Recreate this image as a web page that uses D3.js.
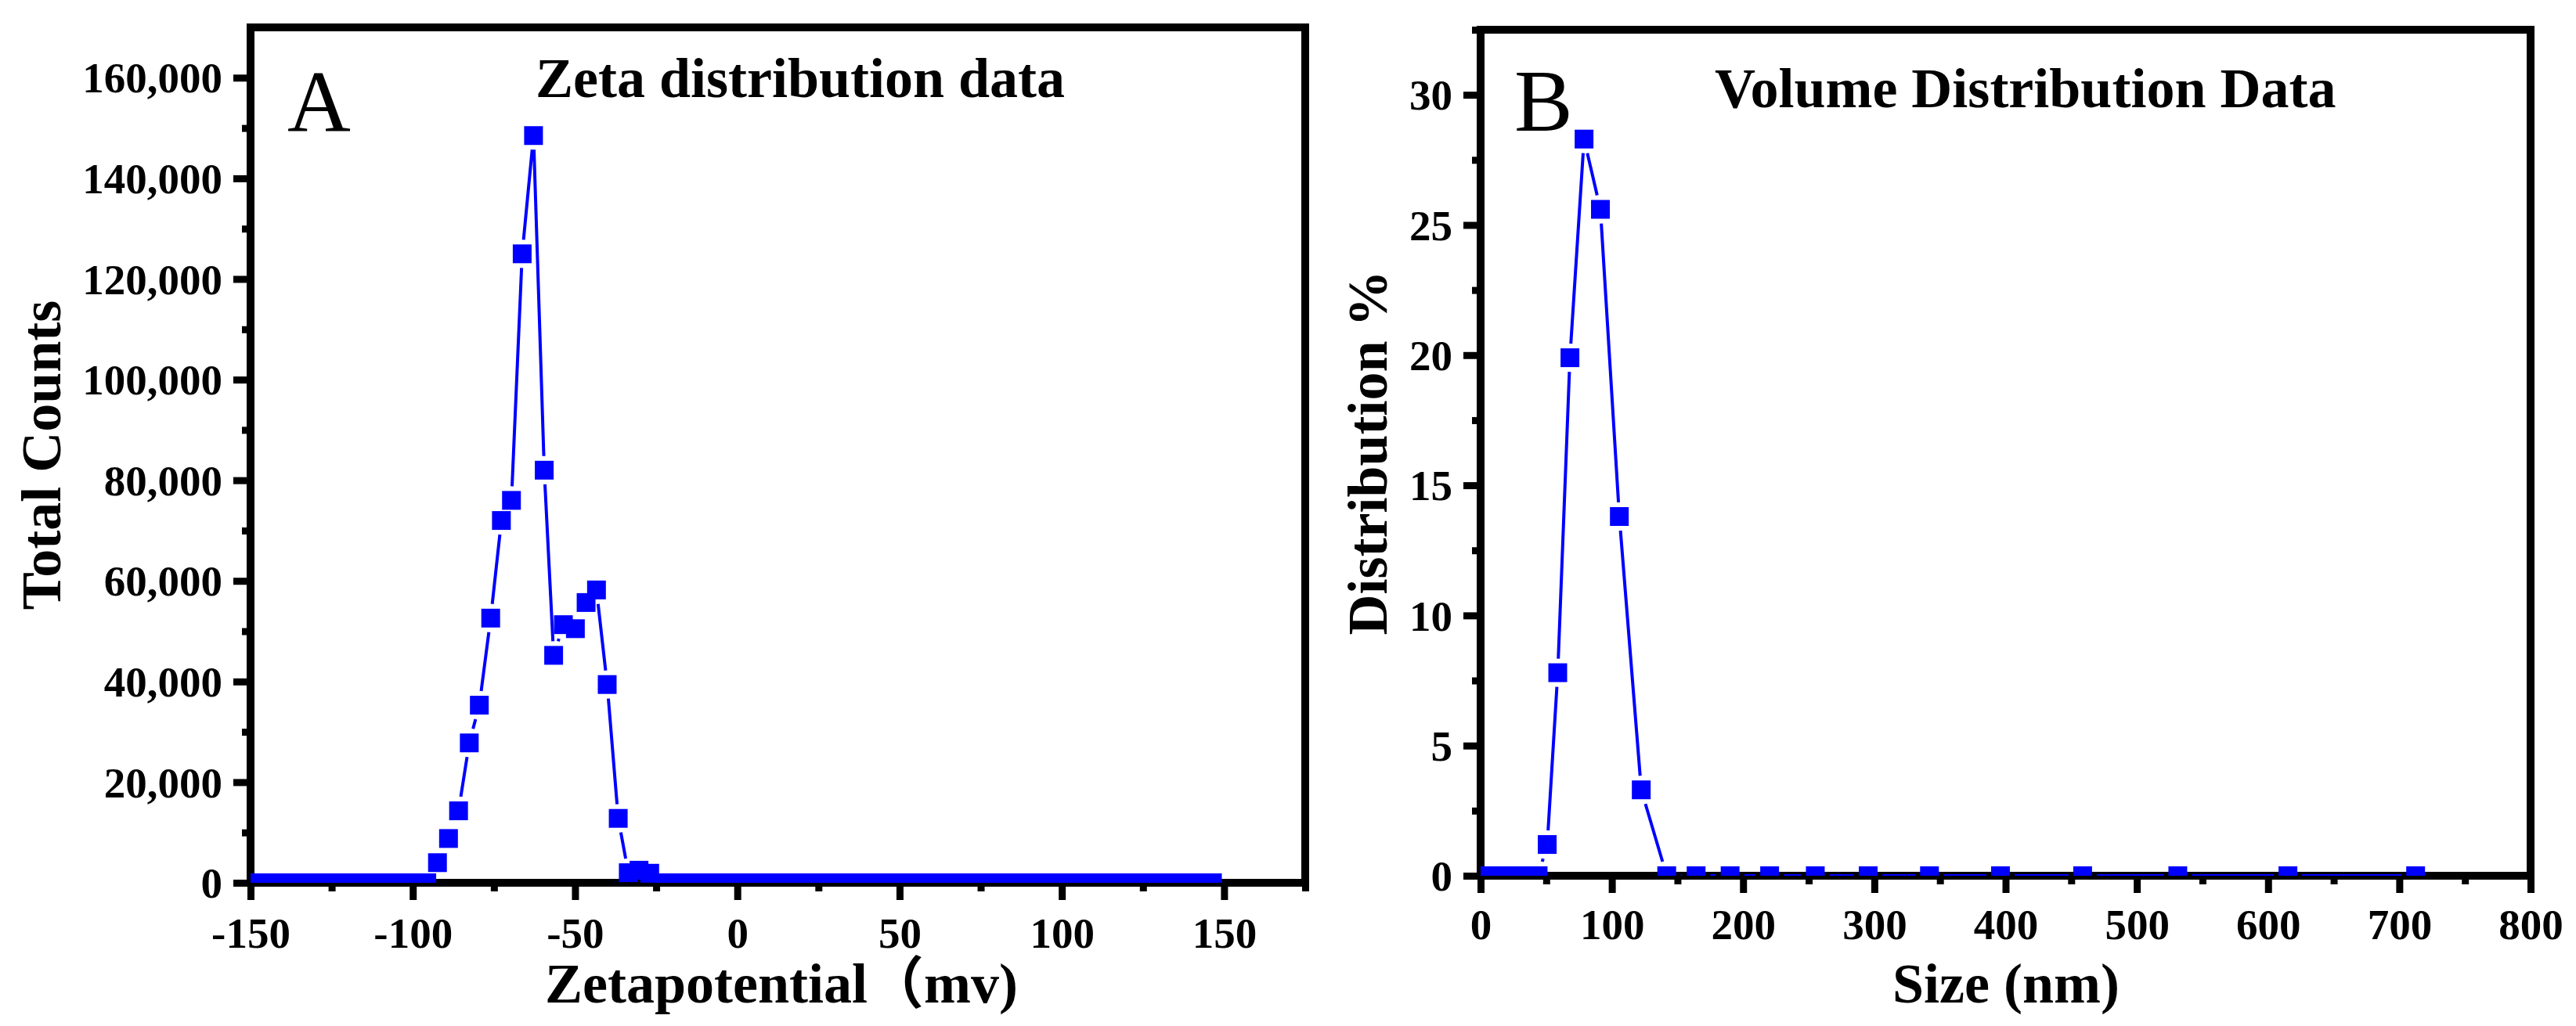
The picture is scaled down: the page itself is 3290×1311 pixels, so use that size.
<!DOCTYPE html>
<html>
<head>
<meta charset="utf-8">
<script src="https://cdn.jsdelivr.net/npm/d3@7"></script>
<style>
  html, body { margin: 0; padding: 0; background: #fff; }
  svg { display: block; }
  text { font-family: "Liberation Serif", "Times New Roman", "Noto Sans CJK SC", serif; fill: #000; }
</style>
</head>
<body>
<svg id="chart" width="3290" height="1311"></svg>
<script>
// ---------------- DATA ----------------
// Panel A: zeta potential distribution
const zetaX = [
  -151.3, -148.0, -144.8, -141.5, -138.2, -134.9, -131.7, -128.4, -125.1, -121.8,
  -118.6, -115.3, -112.0, -108.8, -105.5, -102.2, -98.9, -95.7,
  -92.4, -89.0, -85.9, -82.6, -79.5, -76.0, -72.7, -69.6, -66.3, -62.8,
  -59.5, -56.6, -53.6, -49.9, -46.6, -43.4, -40.1, -36.7, -33.6, -30.3, -27.0,
  -23.7, -20.5, -17.2, -13.9, -10.6, -7.4, -4.1, -0.8,
  2.5, 5.8, 9.0, 12.3, 15.6, 18.8, 22.1, 25.4, 28.7, 31.9,
  35.2, 38.5, 41.7, 45.0, 48.3, 51.6, 54.8, 58.1, 61.4, 64.6,
  67.9, 71.2, 74.5, 77.7, 81.0, 84.3, 87.5, 90.8, 94.1, 97.4,
  100.6, 103.9, 107.2, 110.4, 113.7, 117.0, 120.3, 123.5, 126.8, 130.1,
  133.3, 136.6, 139.9, 143.2, 146.4
];
const zetaCounts = [
  0, 0, 0, 0, 0, 0, 0, 0, 0, 0,
  0, 0, 0, 0, 0, 0, 0, 0,
  4000, 8800, 14300, 27800, 35300, 52600, 72000, 76000, 125000, 148500,
  82000, 45200, 51300, 50500, 55700, 58200, 39400, 12800, 2000, 2500, 1900,
  0, 0, 0, 0, 0, 0, 0, 0,
  0, 0, 0, 0, 0, 0, 0, 0, 0, 0,
  0, 0, 0, 0, 0, 0, 0, 0, 0, 0,
  0, 0, 0, 0, 0, 0, 0, 0, 0, 0,
  0, 0, 0, 0, 0, 0, 0, 0, 0, 0,
  0, 0, 0, 0, 0
];
const zetaXTicks = [-150, -100, -50, 0, 50, 100, 150];
const zetaXMinor = [-125, -75, -25, 25, 75, 125, 175];
const zetaYTicks = [0, 20000, 40000, 60000, 80000, 100000, 120000, 140000, 160000];
const zetaYMinor = [10000, 30000, 50000, 70000, 90000, 110000, 130000, 150000];

// Panel B: volume distribution
const sizeX = [
  0.4, 0.4632, 0.5363, 0.6211, 0.7193, 0.833, 0.9647, 1.117, 1.294, 1.499,
  1.736, 2.01, 2.328, 2.696, 3.122, 3.615, 4.187, 4.849, 5.615, 6.503,
  7.531, 8.721, 10.1, 11.7, 13.54, 15.69, 18.17, 21.04, 24.36, 28.21,
  32.67, 37.84, 43.82, 50.75, 58.77, 68.06, 78.82, 91.28, 105.7, 122.4,
  141.8, 164.2, 190.1, 220.2, 255.0, 295.3, 342.0, 396.1, 458.7, 531.2,
  615.1, 712.4
];
const volumePct = [
  0, 0, 0, 0, 0, 0, 0, 0, 0, 0,
  0, 0, 0, 0, 0, 0, 0, 0, 0, 0,
  0, 0, 0, 0, 0, 0, 0, 0, 0, 0,
  0, 0, 0, 1.2, 7.8, 19.9, 28.3, 25.6, 13.8, 3.3,
  0, 0, 0, 0, 0, 0, 0, 0, 0, 0,
  0, 0
];
const sizeXTicks = [0, 100, 200, 300, 400, 500, 600, 700, 800];
const sizeXMinor = [50, 150, 250, 350, 450, 550, 650, 750];
const volYTicks = [0, 5, 10, 15, 20, 25, 30];
const volYMinor = [2.5, 7.5, 12.5, 17.5, 22.5, 27.5, 32.5];

// ---------------- DRAWING ----------------
const svg = d3.select("#chart");
svg.append("rect").attr("width", 3290).attr("height", 1311).attr("fill", "#fff");

const BLUE = "#0000FF";
const AXIS_W = 10, TICK_W = 9, MAJOR = 22, MINOR = 11;
const MARK = 24, GAP = 6;

function panel(cfg) {
  const g = svg.append("g");
  const x = d3.scaleLinear().domain(cfg.xDomain).range([cfg.left, cfg.right]);
  const y = d3.scaleLinear().domain(cfg.yDomain).range([cfg.bottom, cfg.top]);

  // minor ticks
  g.append("g").attr("transform", `translate(0,${cfg.bottom})`)
    .call(d3.axisBottom(x).tickValues(cfg.xMinor).tickSize(MINOR).tickFormat(""))
    .call(a => a.select(".domain").remove());
  g.append("g").attr("transform", `translate(${cfg.left},0)`)
    .call(d3.axisLeft(y).tickValues(cfg.yMinor).tickSize(MINOR).tickFormat(""))
    .call(a => a.select(".domain").remove());

  // major ticks + labels
  const xa = g.append("g").attr("transform", `translate(0,${cfg.bottom})`)
    .call(d3.axisBottom(x).tickValues(cfg.xTicks).tickSize(MAJOR).tickFormat(cfg.xFmt))
    .call(a => a.select(".domain").remove());
  xa.selectAll("text").attr("y", cfg.xLabelOff).attr("dy", 0)
    .style("font-size", "55px").style("font-weight", "bold")
    .style("font-family", '"Liberation Serif", "Times New Roman", serif');
  const ya = g.append("g").attr("transform", `translate(${cfg.left},0)`)
    .call(d3.axisLeft(y).tickValues(cfg.yTicks).tickSize(MAJOR).tickFormat(cfg.yFmt))
    .call(a => a.select(".domain").remove());
  ya.selectAll("text").attr("x", -36).attr("dy", "0.34em")
    .style("font-size", "55px").style("font-weight", "bold")
    .style("font-family", '"Liberation Serif", "Times New Roman", serif');

  g.selectAll(".tick line").attr("stroke", "#000").attr("stroke-width", TICK_W);

  // frame
  g.append("rect")
    .attr("x", cfg.left).attr("y", cfg.top)
    .attr("width", cfg.right - cfg.left).attr("height", cfg.bottom - cfg.top)
    .attr("fill", "none").attr("stroke", "#000").attr("stroke-width", AXIS_W);

  // data, clipped to plot area
  const clipId = "clip" + cfg.id;
  svg.append("defs").append("clipPath").attr("id", clipId)
    .append("rect").attr("x", cfg.left).attr("y", cfg.top)
    .attr("width", cfg.right - cfg.left).attr("height", cfg.bottom - cfg.top);
  const dg = g.append("g").attr("clip-path", `url(#${clipId})`);

  const pts = cfg.xs.map((v, i) => [x(v), y(cfg.ys[i])]);
  // line segments with gap around symbols
  const cut = MARK / 2 + GAP;
  let d = "";
  for (let i = 0; i < pts.length - 1; i++) {
    const [x0, y0] = pts[i], [x1, y1] = pts[i + 1];
    const dx = x1 - x0, dy = y1 - y0, len = Math.hypot(dx, dy);
    if (len === 0) continue;
    const ux = dx / len, uy = dy / len;
    const t = cut / Math.max(Math.abs(ux), Math.abs(uy));
    if (len > 2 * t) {
      d += `M${x0 + ux * t},${y0 + uy * t}L${x1 - ux * t},${y1 - uy * t}`;
    }
  }
  dg.append("path").attr("d", d).attr("fill", "none")
    .attr("stroke", BLUE).attr("stroke-width", 4);

  dg.selectAll("rect.m").data(pts).join("rect").attr("class", "m")
    .attr("x", p => p[0] - MARK / 2).attr("y", p => p[1] - MARK / 2)
    .attr("width", MARK).attr("height", MARK).attr("fill", BLUE);

  // panel letter + title
  g.append("text").attr("x", cfg.letterX).attr("y", cfg.letterY)
    .style("font-size", "112px").text(cfg.letter);
  g.append("text").attr("x", cfg.titleX).attr("y", cfg.titleY)
    .style("font-size", "72px").style("font-weight", "bold").text(cfg.title);

  // axis titles
  g.append("text").attr("x", cfg.xTitleX).attr("y", 1281)
    .attr("text-anchor", cfg.xTitleAnchor)
    .style("font-size", "72px").style("font-weight", "bold").text(cfg.xTitle);
  g.append("text")
    .attr("transform", `translate(${cfg.yTitleX},${(cfg.top + cfg.bottom) / 2}) rotate(-90)`)
    .attr("text-anchor", "middle")
    .style("font-size", "72px").style("font-weight", "bold").text(cfg.yTitle);
}

panel({
  id: "A",
  left: 320, right: 1667, top: 35, bottom: 1128,
  xDomain: [-150, 175], yDomain: [0, 170000],
  xTicks: zetaXTicks, xMinor: zetaXMinor, yTicks: zetaYTicks, yMinor: zetaYMinor,
  xFmt: d => String(d), yFmt: d3.format(","),
  xLabelOff: 83,
  xs: zetaX, ys: zetaCounts,
  letter: "A", letterX: 367, letterY: 168,
  title: "Zeta distribution data", titleX: 684, titleY: 124,
  xTitle: "Zetapotential\uFF08mv)", xTitleX: 696, xTitleAnchor: "start",
  yTitle: "Total Counts", yTitleX: 77
});

panel({
  id: "B",
  left: 1891, right: 3232, top: 38, bottom: 1119,
  xDomain: [0, 800], yDomain: [0, 32.5],
  xTicks: sizeXTicks, xMinor: sizeXMinor, yTicks: volYTicks, yMinor: volYMinor,
  xFmt: d => String(d), yFmt: d => String(d),
  xLabelOff: 81,
  xs: sizeX, ys: volumePct,
  letter: "B", letterX: 1934, letterY: 167,
  title: "Volume Distribution Data", titleX: 2190, titleY: 137,
  xTitle: "Size (nm)", xTitleX: 2562, xTitleAnchor: "middle",
  yTitle: "Distribution %", yTitleX: 1771
});
</script>
</body>
</html>
